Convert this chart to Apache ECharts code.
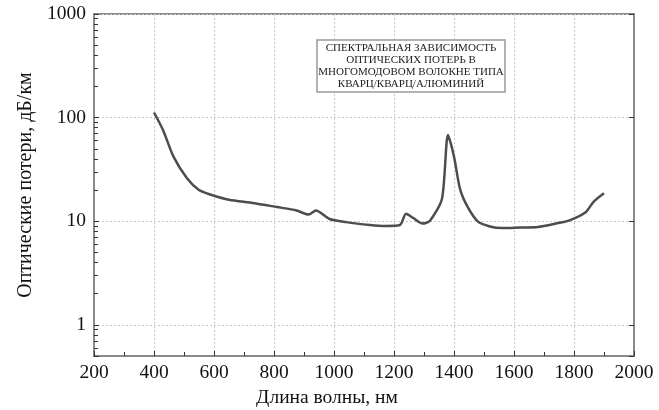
<!DOCTYPE html>
<html>
<head>
<meta charset="utf-8">
<script src="https://cdn.jsdelivr.net/npm/echarts@6/dist/echarts.min.js"></script>
<style>
  html, body { margin: 0; padding: 0; background: #fff; }
  #chart { width: 659px; height: 410px; }
</style>
</head>
<body>
<div id="chart"></div>
<script>
// длина волны, нм
var wavelengths = [400, 430, 465, 510, 550, 590, 650, 730, 810, 875, 915, 940, 985, 1040, 1120, 1170,
  1220, 1240, 1265, 1295, 1320, 1360, 1380, 1400, 1420, 1445, 1480, 1520, 1560, 1620, 1680,
  1740, 1785, 1840, 1865, 1900];
// оптические потери, дБ/км
var losses = [112, 76, 42, 26, 20, 18, 16.1, 15, 13.7, 12.7, 11.6, 12.7, 10.5, 9.8, 9.2, 9.0,
  9.2, 11.8, 10.7, 9.5, 10.1, 16.5, 68, 42, 20.5, 13.8, 9.9, 8.9, 8.6, 8.7, 8.8,
  9.5, 10.2, 12.3, 15.4, 18.6];

var titleLines = [
  "СПЕКТРАЛЬНАЯ ЗАВИСИМОСТЬ",
  "ОПТИЧЕСКИХ ПОТЕРЬ В",
  "МНОГОМОДОВОМ ВОЛОКНЕ ТИПА",
  "КВАРЦ/КВАРЦ/АЛЮМИНИЙ"
];

var serif = "'Liberation Serif', 'DejaVu Serif', serif";
var axisGray = "#8a8a8a";
var tickColor = "#333";

var points = wavelengths.map(function (w, i) { return [w, losses[i]]; });

var chart = echarts.init(document.getElementById("chart"));
var option = {
  animation: false,
  title: {
    text: titleLines.join("\n"),
    left: 410,
    top: 40,
    textAlign: "center",
    borderColor: "#999",
    borderWidth: 1.5,
    padding: [2, 1, 2, 1],
    backgroundColor: "#fff",
    textStyle: {
      fontFamily: serif,
      fontSize: 11,
      fontWeight: "normal",
      color: "#222",
      lineHeight: 12
    }
  },
  grid: {
    left: 94,
    right: 25,
    top: 14,
    bottom: 54,
    outerBoundsMode: "none",
    show: true,
    borderColor: axisGray,
    borderWidth: 2
  },
  xAxis: {
    type: "value",
    min: 200,
    max: 2000,
    interval: 200,
    name: "Длина волны, нм",
    nameLocation: "middle",
    nameGap: 30,
    nameTextStyle: { fontFamily: serif, fontSize: 19.5, color: "#111", padding: [0, 74, 0, 0] },
    axisLine: { show: true, lineStyle: { color: axisGray, width: 2 } },
    axisTick: { inside: true, length: 5, lineStyle: { color: tickColor } },
    minorTick: { show: true, splitNumber: 2, length: 4, lineStyle: { color: tickColor } },
    axisLabel: {
      fontFamily: serif, fontSize: 19.5, color: "#111", margin: 7,
      formatter: function (v) { return String(v); }
    },
    splitLine: { show: true, lineStyle: { color: "#c8c8c8", type: [2, 2] } }
  },
  yAxis: [
    {
      type: "log",
      logBase: 10,
      min: 0.5,
      max: 1000,
      name: "Оптические потери, дБ/км",
      nameLocation: "middle",
      nameGap: 52,
      nameTextStyle: { fontFamily: serif, fontSize: 20, color: "#111" },
      axisLine: { show: true, lineStyle: { color: axisGray, width: 2 } },
      axisTick: { inside: true, length: 5, lineStyle: { color: tickColor } },
      minorTick: { show: true, splitNumber: 9, length: 4, lineStyle: { color: tickColor } },
      axisLabel: {
        fontFamily: serif, fontSize: 19.5, color: "#111", margin: 8, showMinLabel: false,
        formatter: function (v) { return String(v); }
      },
      splitLine: { show: true, lineStyle: { color: "#c8c8c8", type: [2, 2] } }
    },
    {
      type: "log",
      logBase: 10,
      min: 0.5,
      max: 1000,
      position: "right",
      axisLine: { show: true, lineStyle: { color: axisGray, width: 2 } },
      axisTick: { inside: true, length: 5, lineStyle: { color: tickColor } },
      axisLabel: { show: false },
      splitLine: { show: false }
    }
  ],
  series: [
    {
      type: "line",
      data: points,
      yAxisIndex: 0,
      showSymbol: false,
      smooth: 0.25,
      lineStyle: { color: "#4d4d4d", width: 2.5 }
    }
  ]
};
chart.setOption(option);
window.addEventListener("resize", function () {
  chart.resize();
});
</script>
</body>
</html>
